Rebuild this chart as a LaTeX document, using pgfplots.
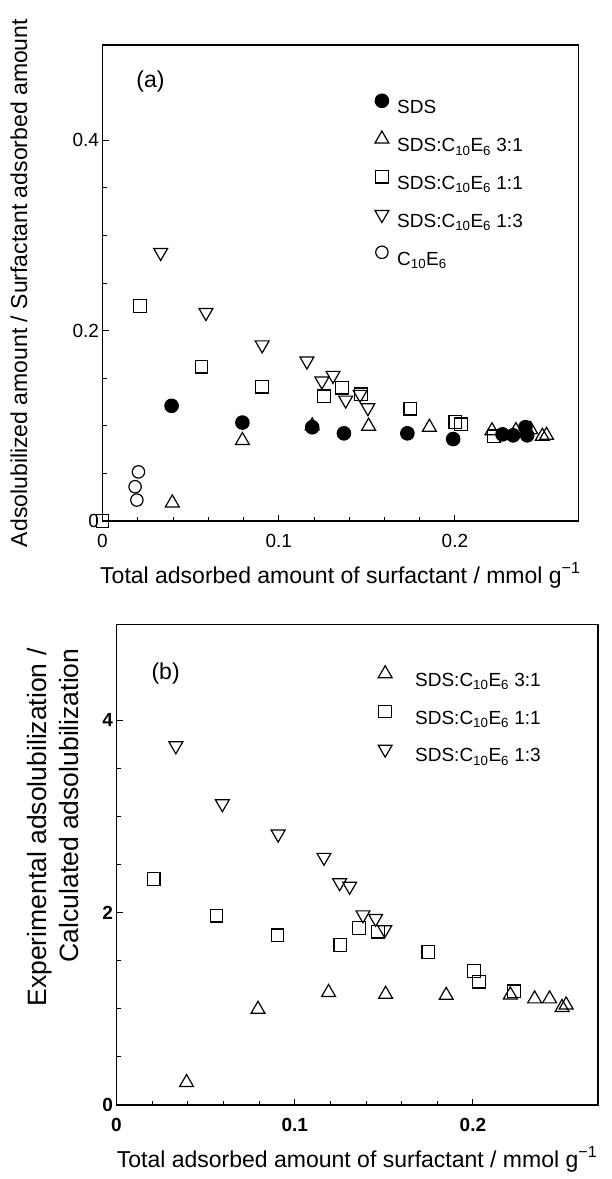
\documentclass[border=0pt]{standalone}
\usepackage{fontspec}
\setmainfont{Liberation Sans}
\usepackage{pgfplots}
\pgfplotsset{compat=1.18}
\newcommand{\mix}[1]{SDS:C\textsubscript{10}E\textsubscript{6} #1}
\newcommand{\lst}{\rule[-4pt]{0pt}{18pt}}
\pgfplotsset{
  panel/.style={
    scale only axis, clip=false,
    axis line style={line width=1.6pt},
    tick align=inside, tick pos=left,
    major tick length=6pt, minor tick length=4pt,
    every tick/.style={black, line width=0.9pt},
    xmin=0, xmax=0.27,
    xtick={0,0.1,0.2}, xticklabels={0,0.1,0.2},
    minor x tick num=4,
    minor y tick num=3,
    /pgf/number format/assume math mode=true,
    tick label style={font=\fontsize{19}{19}\selectfont},
    xticklabel style={anchor=base, yshift=-26pt},
    label style={font=\fontsize{23}{23}\selectfont},
    xlabel style={at={(axis description cs:0.5,0)}, anchor=base, yshift=-62pt},
    legend cell align=left,
    legend image code/.code={\path[draw=none,fill=none] (0pt,-4pt) rectangle (16pt,14pt); \draw[##1] plot coordinates {(8pt,6.5pt)};},
  },
  sds/.style={only marks, mark=*, mark size=6.8pt, mark options={fill=black, draw=black, line width=1pt}},
  tri/.style={only marks, mark=triangle, mark size=8pt, mark options={draw=black, fill=none, line width=1.2pt}},
  sq/.style={only marks, mark=square, mark size=6.3pt, mark options={draw=black, fill=none, line width=1.2pt}},
  dtri/.style={only marks, mark=triangle, mark size=8pt, mark options={draw=black, fill=none, line width=1.2pt, rotate=180}},
  circ/.style={only marks, mark=o, mark size=6.2pt, mark options={draw=black, fill=none, line width=1.2pt}},
}
\begin{document}
\begin{tikzpicture}
\useasboundingbox (0pt,0pt) rectangle (612pt,-1179pt);
% ---------------- panel (a)
\begin{axis}[panel,
  at={(102.5pt,-521pt)}, anchor=south west,
  width=475.8pt, height=476pt,
  ymin=0, ymax=0.5,
  ytick={0,0.2,0.4}, yticklabels={0,0.2,0.4},
  xlabel={Total adsorbed amount of surfactant / mmol g\textsuperscript{−1}},
  ylabel={Adsolubilized amount / Surfactant adsorbed amount},
  ylabel style={at={(axis description cs:-0.1586,0.5)}, anchor=base},
  legend style={at={(axis description cs:0.570,0.899)}, anchor=north west,
    draw=none, fill=none, inner sep=0pt, row sep=16pt, column sep=7.3pt,
    nodes={inner sep=0pt}, font=\fontsize{19}{19}\selectfont},
]
\addplot[sds] coordinates {(0.0392,0.121) (0.0794,0.1034) (0.119,0.0985) (0.137,0.0921) (0.173,0.0921) (0.199,0.0861) (0.227,0.091) (0.233,0.090) (0.240,0.0985) (0.241,0.090)};
\addlegendentry{\lst SDS}
\addplot[tri] coordinates {(0.0396,0.019) (0.0794,0.0846) (0.119,0.100) (0.151,0.0996) (0.1855,0.0985) (0.221,0.0948) (0.2346,0.095) (0.243,0.096) (0.2496,0.089) (0.252,0.090)};
\addlegendentry{\lst\mix{3:1}}
\addplot[sq] coordinates {(0,0) (0.0213,0.226) (0.0562,0.162) (0.0906,0.141) (0.1257,0.131) (0.136,0.140) (0.1468,0.133) (0.1747,0.118) (0.2002,0.104) (0.2034,0.1015) (0.222,0.089)};
\addlegendentry{\lst\mix{1:1}}
\addplot[dtri] coordinates {(0.033,0.282) (0.0587,0.219) (0.0906,0.185) (0.116,0.168) (0.1245,0.147) (0.1308,0.153) (0.138,0.127) (0.1462,0.133) (0.1506,0.119)};
\addlegendentry{\lst\mix{1:3}}
\addplot[circ] coordinates {(0.0204,0.0516) (0.0185,0.036) (0.0195,0.022)};
\addlegendentry{\lst C\textsubscript{10}E\textsubscript{6}}
\node[anchor=west, font=\fontsize{23}{23}\selectfont] at (axis description cs:0.064,0.923) {(a)};
\end{axis}
% ---------------- panel (b)
\begin{axis}[panel,
  at={(116.5pt,-1105pt)}, anchor=south west,
  width=481.2pt, height=480.7pt,
  ymin=0, ymax=5,
  ytick={0,2,4}, yticklabels={0,2,4},
  tick label style={font=\fontsize{19}{19}\selectfont\bfseries},
  xlabel={Total adsorbed amount of surfactant / mmol g\textsuperscript{−1}},
  ylabel={Experimental adsolubilization /\\Calculated adsolubilization},
  ylabel style={at={(axis description cs:-0.132,0.957)}, anchor=east, align=right, font=\fontsize{26.5}{32}\selectfont},
  legend style={at={(axis description cs:0.5413,0.9143)}, anchor=north west,
    draw=none, fill=none, inner sep=0pt, row sep=16pt, column sep=22pt,
    nodes={inner sep=0pt}, font=\fontsize{19}{19}\selectfont},
]
\addplot[tri] coordinates {(0.0393,0.234) (0.0794,0.996) (0.119,1.171) (0.151,1.152) (0.185,1.141) (0.221,1.145) (0.2346,1.104) (0.243,1.104) (0.250,1.015) (0.2523,1.041)};
\addlegendentry{\lst\mix{3:1}}
\addplot[sq] coordinates {(0.0209,2.349) (0.0561,1.970) (0.0903,1.766) (0.1256,1.665) (0.136,1.840) (0.1467,1.803) (0.175,1.591) (0.2006,1.394) (0.2034,1.283) (0.223,1.182)};
\addlegendentry{\lst\mix{1:1}}
\addplot[dtri] coordinates {(0.0333,3.736) (0.0594,3.134) (0.0907,2.818) (0.1164,2.576) (0.1252,2.312) (0.1308,2.275) (0.1383,1.978) (0.1454,1.941) (0.1505,1.822)};
\addlegendentry{\lst\mix{1:3}}
\node[anchor=west, font=\fontsize{23}{23}\selectfont] at (axis description cs:0.0655,0.8966) {(b)};
\end{axis}
\end{tikzpicture}
\end{document}
